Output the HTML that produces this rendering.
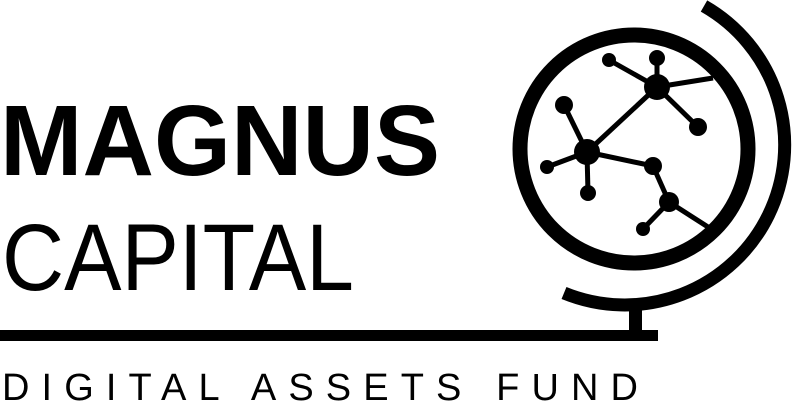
<!DOCTYPE html>
<html><head><meta charset="utf-8"><style>
html,body{margin:0;padding:0;background:#fff;width:800px;height:407px;overflow:hidden}
</style></head><body>
<svg width="800" height="407" viewBox="0 0 800 407">
<text x="0" y="175" font-family="Liberation Sans, sans-serif" font-weight="bold" font-size="100" textLength="440" lengthAdjust="spacingAndGlyphs">MAGNUS</text>
<text x="2" y="290" font-family="Liberation Sans, sans-serif" font-size="95" textLength="352" lengthAdjust="spacingAndGlyphs">CAPITAL</text>
<rect x="0" y="330" width="658" height="11" fill="#000"/>
<text x="2" y="400" font-family="Liberation Sans, sans-serif" font-size="38" textLength="636" lengthAdjust="spacing">DIGITAL ASSETS FUND</text>
<g stroke="#000" fill="none">
<circle cx="634" cy="149" r="114" stroke-width="15"/>
<path d="M704 6 A160 160 0 0 1 564 293" stroke-width="13"/>
<rect x="629" y="300" width="13" height="32" fill="#000" stroke="none"/>
<g stroke-width="5">
<line x1="657" y1="87" x2="609" y2="60"/><line x1="657" y1="87" x2="657" y2="58"/>
<line x1="657" y1="87" x2="713" y2="78"/><line x1="657" y1="87" x2="698" y2="127"/>
<line x1="657" y1="87" x2="587" y2="152"/><line x1="587" y1="152" x2="564" y2="105"/>
<line x1="587" y1="152" x2="547" y2="167"/><line x1="587" y1="152" x2="588" y2="193"/>
<line x1="587" y1="152" x2="653" y2="166"/><line x1="653" y1="166" x2="669" y2="202"/>
<line x1="669" y1="202" x2="643" y2="229"/><line x1="669" y1="202" x2="708" y2="227"/>
</g>
<g fill="#000" stroke="none">
<circle cx="657" cy="87" r="13"/><circle cx="609" cy="60" r="7"/><circle cx="657" cy="58" r="8"/>
<circle cx="698" cy="127" r="9"/><circle cx="587" cy="152" r="13"/><circle cx="564" cy="105" r="9"/>
<circle cx="547" cy="167" r="7"/><circle cx="588" cy="193" r="8"/><circle cx="653" cy="166" r="9"/>
<circle cx="669" cy="202" r="10"/><circle cx="643" cy="229" r="7"/>
</g>
</g>
</svg>
</body></html>
